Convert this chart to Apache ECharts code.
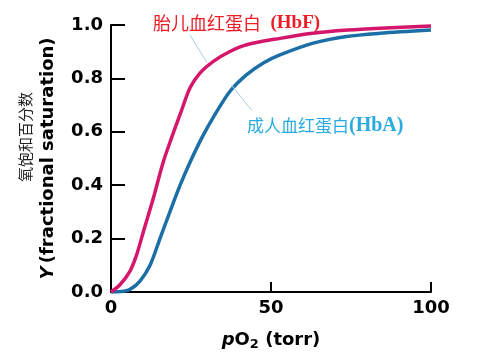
<!DOCTYPE html>
<html>
<head>
<meta charset="utf-8">
<script src="https://cdn.jsdelivr.net/npm/echarts@6/dist/echarts.min.js"></script>
<style>html,body{margin:0;padding:0;background:#fff;}#c{width:500px;height:356px;}</style>
</head>
<body>
<div id="c"></div>
<script>
// Data
const hbfP = [0, 2.8, 5.9, 8, 10.1, 13.2, 16.3, 19, 21.6, 24.7, 27.8, 32, 37, 42.4, 52.8, 63, 74, 84, 100];
const hbfY = [0, 0.027, 0.077, 0.139, 0.225, 0.35, 0.486, 0.58, 0.665, 0.765, 0.82, 0.864, 0.90, 0.926, 0.95, 0.969, 0.981, 0.988, 0.996];
const hbaP = [0, 4, 6, 9, 12.2, 15.3, 18.4, 21.6, 24.7, 28.5, 32, 37.2, 42.4, 47.6, 52.8, 63.2, 73.6, 84, 100];
const hbaY = [0, 0.003, 0.01, 0.04, 0.10, 0.20, 0.30, 0.40, 0.486, 0.58, 0.655, 0.752, 0.814, 0.858, 0.888, 0.932, 0.957, 0.969, 0.981];
const xTicks = [0, 50, 100];
const yTicks = [0.0, 0.2, 0.4, 0.6, 0.8, 1.0];
const hbfName = '胎儿血红蛋白';
const hbaName = '成人血红蛋白';
// leader line endpoints (data coords)
const hbfLeader = [[24.7, 0.963], [30, 0.859]];
const hbaLeader = [[37.5, 0.777], [44, 0.68]];

const pair = (xs, ys) => xs.map((x, i) => [x, ys[i]]);
const tickFont = 'DejaVu Sans';

const chart = echarts.init(document.getElementById('c'), null, {renderer: 'canvas'});
chart.setOption({
  animation: false,
  grid: {left: 111, right: 69, top: 25, bottom: 62, containLabel: false},
  xAxis: {
    type: 'value', min: xTicks[0], max: xTicks[xTicks.length - 1], interval: 50,
    axisLine: {lineStyle: {color: '#000', width: 2}},
    axisTick: {inside: true, length: 10, lineStyle: {color: '#000', width: 2}},
    splitLine: {show: false},
    axisLabel: {color: '#000', fontFamily: tickFont, fontWeight: 'bold', fontSize: 18, margin: 7},
    name: '{p|p}{n|O}{s|2}{n| (torr)}',
    nameLocation: 'middle', nameGap: 38,
    nameTextStyle: {
      rich: {
        p: {fontFamily: tickFont, fontWeight: 'bold', fontStyle: 'italic', fontSize: 18, color: '#000'},
        n: {fontFamily: tickFont, fontWeight: 'bold', fontSize: 18, color: '#000'},
        s: {fontFamily: tickFont, fontWeight: 'bold', fontSize: 13, color: '#000', verticalAlign: 'bottom', padding: [8, 0, 0, 0]}
      }
    }
  },
  yAxis: {
    type: 'value', min: yTicks[0], max: yTicks[yTicks.length - 1], interval: 0.2,
    axisLine: {show: true, lineStyle: {color: '#000', width: 2}},
    axisTick: {show: true, inside: true, length: 14, lineStyle: {color: '#000', width: 2}},
    splitLine: {show: false},
    axisLabel: {color: '#000', fontFamily: tickFont, fontWeight: 'bold', fontSize: 18, margin: 8,
      formatter: v => v.toFixed(1)},
    name: '{i|Y} {n|(fractional saturation)}',
    nameLocation: 'middle', nameGap: 54, nameRotate: 90,
    nameTextStyle: {
      rich: {
        i: {fontFamily: tickFont, fontWeight: 'bold', fontStyle: 'italic', fontSize: 18, color: '#000'},
        n: {fontFamily: tickFont, fontWeight: 'bold', fontSize: 18, color: '#000'}
      }
    }
  },
  series: [
    {
      type: 'line', name: 'HbA', data: pair(hbaP, hbaY), showSymbol: false,
      smooth: 0.3,
      lineStyle: {color: '#1B6FA6', width: 3.5}, z: 3,
      markLine: {silent: true, symbol: 'none', label: {show: false},
        lineStyle: {color: '#A9CFEA', width: 1, type: 'solid'},
        data: [[{coord: hbaLeader[0]}, {coord: hbaLeader[1]}]]}
    },
    {
      type: 'line', name: 'HbF', data: pair(hbfP, hbfY), showSymbol: false,
      smooth: 0.3,
      lineStyle: {color: '#D5176C', width: 3.5}, z: 4,
      markLine: {silent: true, symbol: 'none', label: {show: false},
        lineStyle: {color: '#A9CFEA', width: 1, type: 'solid'},
        data: [[{coord: hbfLeader[0]}, {coord: hbfLeader[1]}]]}
    }
  ],
  graphic: [
    {
      type: 'text', x: 25, y: 137, rotation: Math.PI / 2,
      style: {text: '氧饱和百分数', fontFamily: 'Noto Sans CJK SC', fontSize: 15, fill: '#222',
        align: 'center', verticalAlign: 'middle'}
    },
    {
      type: 'text', x: 153, y: 23,
      style: {
        text: '{c|' + hbfName + '}{e|  (HbF)}',
        align: 'left', verticalAlign: 'middle',
        rich: {
          c: {fontFamily: 'Noto Sans CJK SC', fontSize: 18, fill: '#EE1C25'},
          e: {fontFamily: 'Liberation Serif', fontWeight: 'bold', fontSize: 19, fill: '#EE1C25'}
        }
      }
    },
    {
      type: 'text', x: 247, y: 126,
      style: {
        text: '{c|' + hbaName + '}{e|(HbA)}',
        align: 'left', verticalAlign: 'middle',
        rich: {
          c: {fontFamily: 'Noto Sans CJK SC', fontSize: 17, fill: '#29AAE1'},
          e: {fontFamily: 'Liberation Serif', fontWeight: 'bold', fontSize: 20, fill: '#29AAE1'}
        }
      }
    }
  ]
});
</script>
</body>
</html>
